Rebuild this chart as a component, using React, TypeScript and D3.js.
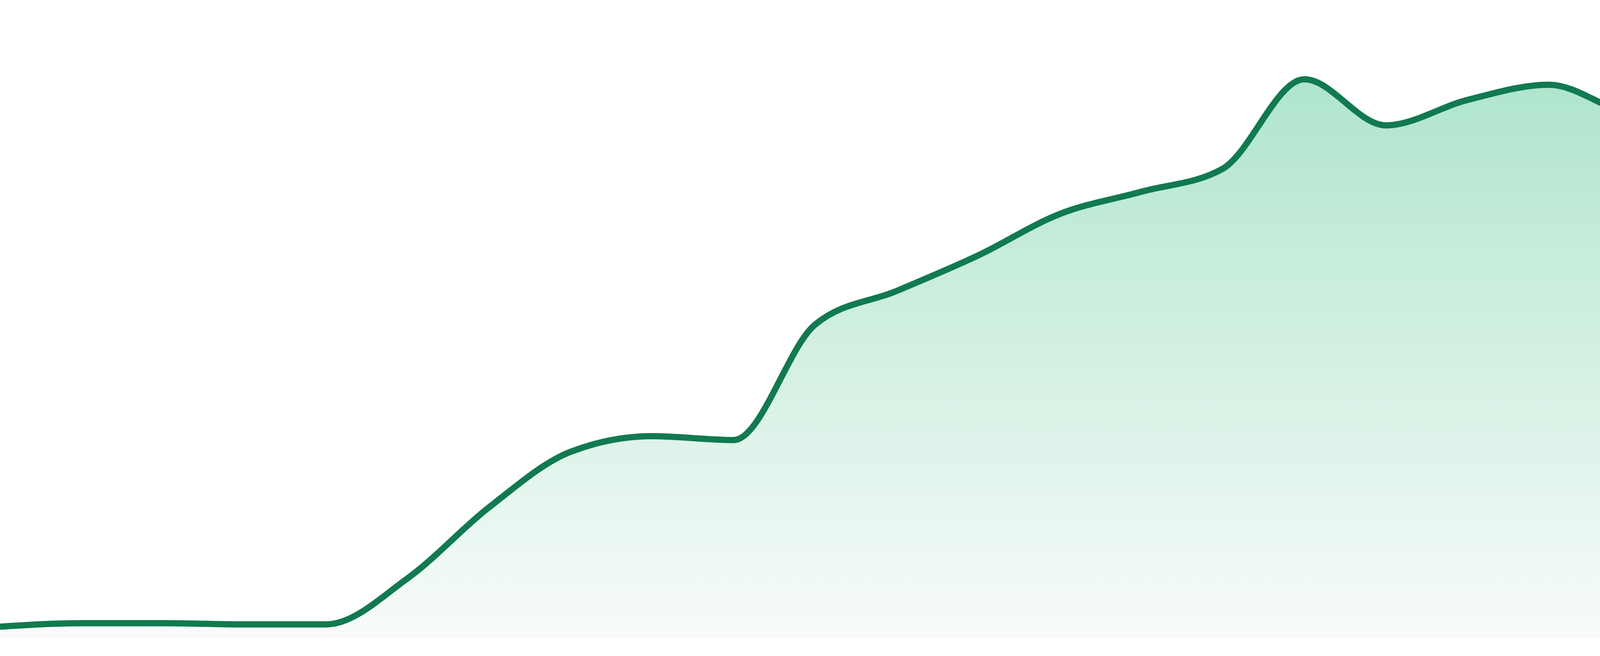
import React, { useRef, useEffect } from 'react'
import * as d3 from 'd3'

const WIDTH = 4800
const HEIGHT = 1680

// one reading per step, evenly spaced along x
const values = [
  28, 37, 37, 34, 34, 152, 334, 476, 516, 506, 802, 888,
  979, 1085, 1142, 1201, 1430, 1312, 1377, 1416, 1342, 1324, 1316, 1366,
]
const yDomain = [0, 1500]

const lineColor = '#117a50'
const fillTop = '#afe5cc'
const fillBottom = '#f8fbfa'

export default function App() {
  const svgRef = useRef<SVGSVGElement>(null)

  useEffect(() => {
    if (!svgRef.current) return

    d3.select(svgRef.current).selectAll('*').remove()

    const svg = d3.select(svgRef.current)
      .attr('viewBox', [0, 0, WIDTH, HEIGHT])

    const x = d3.scaleLinear()
      .domain([0, values.length - 1])
      .range([0, WIDTH])

    const y = d3.scaleLinear()
      .domain(yDomain)
      .range([1633, 133])

    // gradient under the line
    const grad = svg.append('defs')
      .append('linearGradient')
      .attr('id', 'areaFill')
      .attr('x1', 0)
      .attr('y1', 0)
      .attr('x2', 0)
      .attr('y2', 1)
    grad.append('stop').attr('offset', '0%').attr('stop-color', fillTop)
    grad.append('stop').attr('offset', '100%').attr('stop-color', fillBottom)

    const area = d3.area<number>()
      .x((_, i) => x(i))
      .y0(y(0))
      .y1(d => y(d))
      .curve(d3.curveMonotoneX)

    const line = d3.line<number>()
      .x((_, i) => x(i))
      .y(d => y(d))
      .curve(d3.curveMonotoneX)

    svg.append('path')
      .datum(values)
      .attr('d', area)
      .attr('fill', 'url(#areaFill)')

    svg.append('path')
      .datum(values)
      .attr('d', line)
      .attr('fill', 'none')
      .attr('stroke', lineColor)
      .attr('stroke-width', 16)
      .attr('stroke-linejoin', 'round')
  }, [])

  return (
    <svg
      ref={svgRef}
      width={WIDTH}
      height={HEIGHT}
      style={{ position: 'absolute', left: 0, top: 0, display: 'block', background: '#fff' }}
    />
  )
}
